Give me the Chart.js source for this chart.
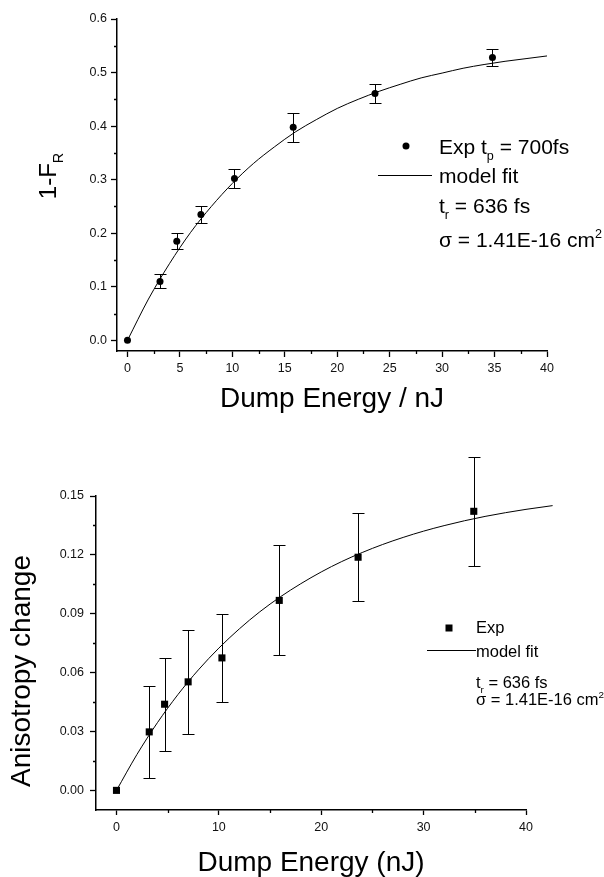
<!DOCTYPE html>
<html>
<head>
<meta charset="utf-8">
<script src="https://cdn.jsdelivr.net/npm/chart.js@4.4.1/dist/chart.umd.min.js"></script>
<style>
  body { margin: 0; background: #fff; width: 604px; height: 877px; position: relative; overflow: hidden; }
  .panel { position: absolute; left: 0; width: 604px; }
</style>
</head>
<body>
<div class="panel" style="top:0;height:440px"><canvas id="depletionCanvas" width="604" height="440"></canvas></div>
<div class="panel" style="top:440px;height:437px"><canvas id="anisoCanvas" width="604" height="437"></canvas></div>
<script>
// --- panel 1: 1-F_R vs dump energy ---
const energyA = [0, 3.1, 4.7, 7.0, 10.2, 15.8, 23.6, 34.8];
const depletionA = [0, 0.110, 0.185, 0.235, 0.302, 0.398, 0.461, 0.528];
const depletionErrA = [0, 0.013, 0.015, 0.016, 0.018, 0.027, 0.017, 0.016];
const fitEnergyA = [0, 2, 4, 6, 8, 10, 12, 14, 16, 18, 20, 22, 24, 26, 28, 30, 32, 34, 36, 38, 40];
const fitDepletionA = [0, 0.077, 0.143, 0.201, 0.250, 0.293, 0.330, 0.361, 0.389, 0.412, 0.433,
                       0.450, 0.465, 0.478, 0.490, 0.499, 0.508, 0.515, 0.521, 0.526, 0.531];
const xTicksA = [0, 5, 10, 15, 20, 25, 30, 35, 40];
const xMinorA = [2.5, 7.5, 12.5, 17.5, 22.5, 27.5, 32.5, 37.5];
const yTicksA = [0, 0.1, 0.2, 0.3, 0.4, 0.5, 0.6];
const yLabelsA = ['0.0', '0.1', '0.2', '0.3', '0.4', '0.5', '0.6'];
const yMinorA = [0.05, 0.15, 0.25, 0.35, 0.45, 0.55];

// --- panel 2: anisotropy change vs dump energy ---
const energyB = [0, 3.2, 4.7, 7.0, 10.3, 15.9, 23.6, 34.9];
const anisoB = [0, 0.0298, 0.0439, 0.0553, 0.0675, 0.0968, 0.1188, 0.1422];
const anisoErrB = [0, 0.0236, 0.0236, 0.0265, 0.0225, 0.0280, 0.0224, 0.0278];
const fitEnergyB = [0, 2, 4, 6, 8, 10, 12, 14, 16, 18, 20, 22, 24, 26, 28, 30, 32, 34, 36, 38, 40, 42.6];
const fitAnisoB = [0, 0.0183, 0.0345, 0.0488, 0.0614, 0.0725, 0.0823, 0.0910, 0.0986, 0.1053, 0.1113,
                   0.1166, 0.1212, 0.1253, 0.1289, 0.1321, 0.1349, 0.1374, 0.1396, 0.1415, 0.1432, 0.1451];
const xTicksB = [0, 10, 20, 30, 40];
const xMinorB = [5, 15, 25, 35];
const yTicksB = [0, 0.03, 0.06, 0.09, 0.12, 0.15];
const yLabelsB = ['0.00', '0.03', '0.06', '0.09', '0.12', '0.15'];
const yMinorB = [0.015, 0.045, 0.075, 0.105, 0.135];

const FONT = "'Liberation Sans', Arial, Helvetica, sans-serif";
Chart.defaults.font.family = FONT;
Chart.defaults.color = '#000';
Chart.defaults.animation = false;

const toPoints = (xs, ys) => xs.map((v, i) => ({ x: v, y: ys[i] }));

// text runs with sub/superscripts: strings, {sub: '..'} or {sup: '..'}
function runWidth(ctx, parts, size) {
  let w = 0;
  for (const p of parts) {
    const t = typeof p === 'string' ? p : (p.sub || p.sup);
    ctx.font = (typeof p === 'string' ? size : size * 0.6) + 'px ' + FONT;
    w += ctx.measureText(t).width;
  }
  return w;
}
function drawRun(ctx, x, y, parts, size) {
  let cx = x;
  ctx.textBaseline = 'alphabetic';
  ctx.textAlign = 'left';
  for (const p of parts) {
    let t = p, dy = 0, s = size;
    if (typeof p !== 'string') {
      s = size * 0.6;
      t = p.sub || p.sup;
      dy = p.sub ? size * 0.28 : -size * 0.42;
    }
    ctx.font = s + 'px ' + FONT;
    ctx.fillText(t, cx, y + dy);
    cx += ctx.measureText(t).width;
  }
}

function errorBars(xs, ys, errs, cap) {
  return {
    id: 'errorBars',
    beforeDatasetsDraw(chart) {
      const { ctx, scales: { x, y } } = chart;
      ctx.save();
      ctx.strokeStyle = '#000';
      ctx.lineWidth = 1;
      ctx.beginPath();
      xs.forEach((v, i) => {
        if (!errs[i]) return;
        const px = Math.round(x.getPixelForValue(v)) + 0.5;
        const top = Math.round(y.getPixelForValue(ys[i] + errs[i])) + 0.5;
        const bot = Math.round(y.getPixelForValue(ys[i] - errs[i])) + 0.5;
        ctx.moveTo(px, top); ctx.lineTo(px, bot);
        ctx.moveTo(px - cap, top); ctx.lineTo(px + cap, top);
        ctx.moveTo(px - cap, bot); ctx.lineTo(px + cap, bot);
      });
      ctx.stroke();
      ctx.restore();
    }
  };
}

function minorTicks(xMinor, yMinor, len) {
  return {
    id: 'minorTicks',
    afterDraw(chart) {
      const { ctx, chartArea: a, scales: { x, y } } = chart;
      ctx.save();
      ctx.strokeStyle = '#000';
      ctx.lineWidth = 1.3;
      ctx.beginPath();
      xMinor.forEach(v => {
        const px = Math.round(x.getPixelForValue(v)) + 0.5;
        ctx.moveTo(px, a.bottom); ctx.lineTo(px, a.bottom + len);
      });
      yMinor.forEach(v => {
        const py = Math.round(y.getPixelForValue(v)) + 0.5;
        ctx.moveTo(a.left, py); ctx.lineTo(a.left - len, py);
      });
      ctx.stroke();
      ctx.restore();
    }
  };
}

// axis titles and the key box
function annotations(spec) {
  return {
    id: 'annotations',
    afterDraw(chart) {
      const ctx = chart.ctx;
      ctx.save();
      ctx.fillStyle = '#000';
      ctx.strokeStyle = '#000';

      // x title
      ctx.font = spec.xTitle.size + 'px ' + FONT;
      ctx.textAlign = 'center';
      ctx.textBaseline = 'alphabetic';
      ctx.fillText(spec.xTitle.text, (chart.chartArea.left + chart.chartArea.right) / 2, spec.xTitle.y);

      // y title, rotated
      ctx.save();
      ctx.translate(spec.yTitle.x, spec.yTitle.y);
      ctx.rotate(-Math.PI / 2);
      const w = runWidth(ctx, spec.yTitle.parts, spec.yTitle.size);
      drawRun(ctx, -w / 2, 0, spec.yTitle.parts, spec.yTitle.size);
      ctx.restore();

      // key
      const k = spec.key;
      if (k.marker === 'circle') {
        ctx.beginPath();
        ctx.arc(k.markerX, k.markerY, k.markerR, 0, Math.PI * 2);
        ctx.fill();
      } else {
        ctx.fillRect(k.markerX - k.markerR, k.markerY - k.markerR, k.markerR * 2, k.markerR * 2);
      }
      ctx.lineWidth = 1;
      ctx.beginPath();
      ctx.moveTo(k.lineX0, k.lineY + 0.5);
      ctx.lineTo(k.lineX1, k.lineY + 0.5);
      ctx.stroke();
      k.rows.forEach(r => drawRun(ctx, k.textX, r.y, r.parts, k.size));
      ctx.restore();
    }
  };
}

function axisOptions(o) {
  return {
    type: 'linear',
    min: o.min,
    max: o.max,
    bounds: 'data',
    border: { display: true, color: '#000', width: 1.5 },
    grid: { display: true, drawOnChartArea: false, drawTicks: true, tickLength: o.tickLength, tickColor: '#000', tickWidth: 1.3 },
    ticks: {
      font: { size: 12.5 },
      color: '#111',
      padding: o.padding,
      autoSkip: false,
      maxRotation: 0,
      callback: (v, i) => o.labels ? o.labels[i] : String(v)
    },
    afterBuildTicks: s => { s.ticks = o.ticks.map(v => ({ value: v })); },
    afterFit: o.afterFit
  };
}

// panel 1
new Chart(document.getElementById('depletionCanvas'), {
  type: 'scatter',
  data: {
    datasets: [
      { type: 'line', data: toPoints(fitEnergyA, fitDepletionA), borderColor: '#000', borderWidth: 1,
        pointRadius: 0, cubicInterpolationMode: 'monotone', fill: false, clip: false },
      { data: toPoints(energyA, depletionA), pointStyle: 'circle', pointRadius: 3.5,
        backgroundColor: '#000', borderColor: '#000', borderWidth: 0, clip: false }
    ]
  },
  options: {
    responsive: false,
    layout: { padding: { left: 0, right: 57, top: 19, bottom: 0 } },
    plugins: { legend: { display: false }, tooltip: { enabled: false } },
    scales: {
      x: axisOptions({ min: -1, max: 40, ticks: xTicksA, tickLength: 6, padding: 4,
                       afterFit: s => { s.height = 89; } }),
      y: axisOptions({ min: -0.02, max: 0.6, ticks: yTicksA, labels: yLabelsA, tickLength: 6, padding: 4,
                       afterFit: s => { s.width = 117; } })
    }
  },
  plugins: [
    errorBars(energyA, depletionA, depletionErrA, 6),
    minorTicks(xMinorA, yMinorA, 3),
    annotations({
      xTitle: { text: 'Dump Energy / nJ', size: 28, y: 407 },
      yTitle: { parts: ['1-F', { sub: 'R' }], size: 24, x: 56, y: 176 },
      key: {
        marker: 'circle', markerX: 406, markerY: 146, markerR: 3.5,
        lineX0: 378, lineX1: 432, lineY: 175,
        textX: 439, size: 21,
        rows: [
          { y: 154, parts: ['Exp t', { sub: 'p' }, ' = 700fs'] },
          { y: 183, parts: ['model fit'] },
          { y: 213, parts: ['t', { sub: 'r' }, ' = 636 fs'] },
          { y: 247, parts: ['\u03c3 = 1.41E-16 cm', { sup: '2' }] }
        ]
      }
    })
  ]
});

// panel 2 — the fit runs a little past the last tick, so the x range is
// set after the data limits (keeps the trailing fit point from being culled)
const xAxisB = axisOptions({ ticks: xTicksB, tickLength: 5, padding: 5, afterFit: s => { s.height = 67; } });
xAxisB.afterDataLimits = s => { s.min = -2; s.max = 40; };

new Chart(document.getElementById('anisoCanvas'), {
  type: 'scatter',
  data: {
    datasets: [
      { type: 'line', data: toPoints(fitEnergyB, fitAnisoB), borderColor: '#000', borderWidth: 1,
        pointRadius: 0, cubicInterpolationMode: 'monotone', fill: false, clip: false },
      { data: toPoints(energyB, anisoB), pointStyle: 'rect', pointRadius: 5,
        backgroundColor: '#000', borderColor: '#000', borderWidth: 0, clip: false }
    ]
  },
  options: {
    responsive: false,
    layout: { padding: { left: 0, right: 78, top: 56, bottom: 0 } },
    plugins: { legend: { display: false }, tooltip: { enabled: false } },
    scales: {
      x: xAxisB,
      y: axisOptions({ min: -0.01, max: 0.15, ticks: yTicksB, labels: yLabelsB, tickLength: 6, padding: 6,
                       afterFit: s => { s.width = 96; } })
    }
  },
  plugins: [
    errorBars(energyB, anisoB, anisoErrB, 6),
    minorTicks(xMinorB, yMinorB, 3),
    annotations({
      xTitle: { text: 'Dump Energy (nJ)', size: 28, y: 431 },
      yTitle: { parts: ['Anisotropy change'], size: 28, x: 30, y: 231 },
      key: {
        marker: 'rect', markerX: 449, markerY: 188, markerR: 3.5,
        lineX0: 427, lineX1: 476, lineY: 210,
        textX: 476, size: 16.5,
        rows: [
          { y: 193, parts: ['Exp'] },
          { y: 217, parts: ['model fit'] },
          { y: 248, parts: ['t', { sub: 'r' }, ' = 636 fs'] },
          { y: 265, parts: ['\u03c3 = 1.41E-16 cm', { sup: '2' }] }
        ]
      }
    })
  ]
});
</script>
</body>
</html>
